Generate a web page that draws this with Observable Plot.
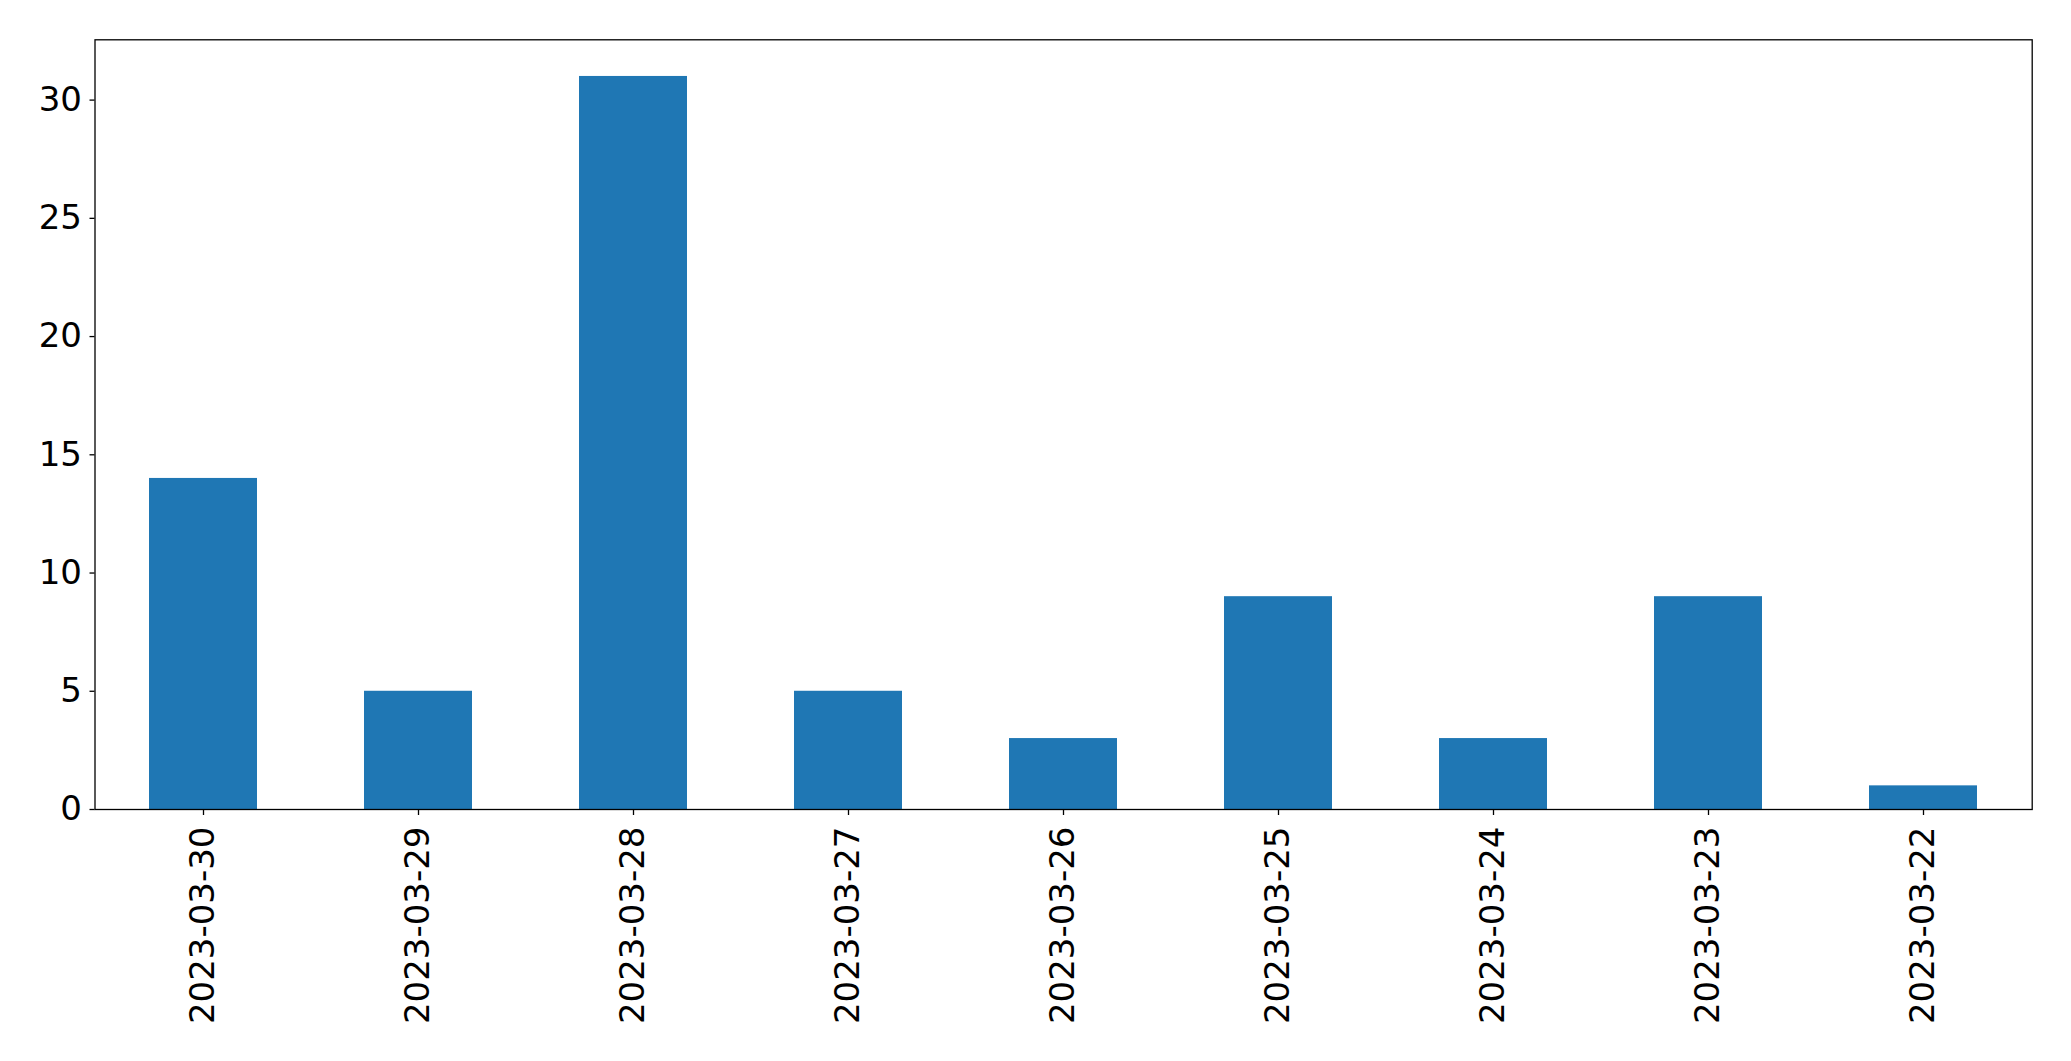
<!DOCTYPE html>
<html>
<head>
<meta charset="utf-8">
<script src="https://cdn.jsdelivr.net/npm/d3@7"></script>
<script src="https://cdn.jsdelivr.net/npm/@observablehq/plot@0.6"></script>
<style>
html, body { margin: 0; padding: 0; background: #fff; }
#chart svg { display: block; }
</style>
</head>
<body>
<div id="chart"></div>
<script>
const dates = ["2023-03-30","2023-03-29","2023-03-28","2023-03-27","2023-03-26","2023-03-25","2023-03-24","2023-03-23","2023-03-22"];
const counts = [14, 5, 31, 5, 3, 9, 3, 9, 1];
const yTicks = [0, 5, 10, 15, 20, 25, 30];

const data = dates.map((d, i) => ({date: d, count: counts[i]}));

const chart = Plot.plot({
  width: 2071,
  height: 1061,
  marginLeft: 94.5,
  marginRight: 39.3,
  marginTop: 39.3,
  marginBottom: 252,
  style: {fontFamily: "DejaVu Sans", fontSize: "34px", color: "#000", background: "#fff"},
  x: {domain: dates, paddingInner: 0.5, paddingOuter: 0.25, label: null},
  y: {domain: [0, 32.55], label: null},
  marks: [
    Plot.barY(data, {x: "date", y: "count", fill: "#1f77b4"}),
    Plot.frame({stroke: "#000", strokeWidth: 1.3}),
    Plot.axisY({ticks: yTicks, tickSize: 5, tickPadding: 8, fontSize: 34, label: null, stroke: "#000", strokeWidth: 1.3}),
    Plot.axisX({tickSize: 6, tickPadding: 11, tickRotate: -90, fontSize: 34, label: null, stroke: "#000", strokeWidth: 1.3})
  ]
});
document.getElementById("chart").appendChild(chart);
</script>
</body>
</html>
